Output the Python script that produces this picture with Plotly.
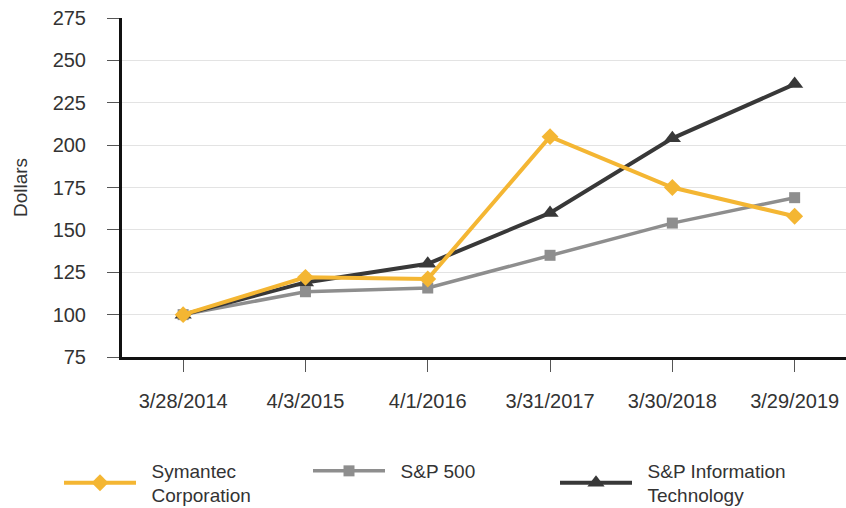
import plotly.graph_objects as go

dates = ["3/28/2014", "4/3/2015", "4/1/2016", "3/31/2017", "3/30/2018", "3/29/2019"]
symantec = [100, 122, 121, 205, 175, 158]
sp500 = [100, 113.5, 115.7, 135, 154, 169]
sp_it = [100, 119, 130, 160, 204, 236]
y_ticks = [75, 100, 125, 150, 175, 200, 225, 250, 275]

YELLOW = "#F4B633"
GRAY = "#8E8E8E"
DARK = "#383838"
FONT = "Liberation Sans, Arial, sans-serif"
TXT = "#333333"
PAD = "\u00a0" * 2
W, H = 846, 508

fig = go.Figure()
fig.add_trace(go.Scatter(
    x=dates, y=sp500, name=PAD + "S&P 500", mode="lines+markers",
    line=dict(color=GRAY, width=3.5),
    marker=dict(symbol="square", size=11, color=GRAY),
    legend="legend2",
))
fig.add_trace(go.Scatter(
    x=dates, y=sp_it, name=PAD + "S&P Information<br>" + PAD + "Technology",
    mode="lines+markers",
    line=dict(color=DARK, width=4),
    marker=dict(symbol="triangle-up", size=15, color=DARK),
    legend="legend3",
))
fig.add_trace(go.Scatter(
    x=dates, y=symantec, name=PAD + "Symantec<br>" + PAD + "Corporation",
    mode="lines+markers",
    line=dict(color=YELLOW, width=4),
    marker=dict(symbol="diamond", size=13, color=YELLOW),
    legend="legend",
))


def leg(xpx, ycenter):
    return dict(
        orientation="h", x=xpx / W, xref="container",
        y=1 - ycenter / H, yref="container",
        xanchor="left", yanchor="middle",
        font=dict(size=19, color=TXT, family=FONT),
        itemwidth=72, itemsizing="trace", bgcolor="rgba(0,0,0,0)",
    )


fig.update_layout(
    width=W, height=H,
    margin=dict(l=122, r=0, t=18, b=151, autoexpand=False),
    paper_bgcolor="white", plot_bgcolor="white",
    font=dict(family=FONT, color=TXT, size=18),
    showlegend=True,
    legend=leg(59, 483),
    legend2=leg(308, 471),
    legend3=leg(555, 483),
    xaxis=dict(
        type="category", range=[-0.5, 5.42], automargin=False,
        showline=True, linecolor="#111111", linewidth=2.5,
        ticks="outside", ticklen=12, tickcolor="#555555", tickwidth=1,
        ticklabelstandoff=12,
        tickfont=dict(size=20, color=TXT),
        showgrid=False, zeroline=False,
    ),
    yaxis=dict(
        range=[75, 275], tickvals=y_ticks, automargin=False,
        showline=True, linecolor="#111111", linewidth=3,
        ticks="outside", ticklen=12, tickcolor="#555555", tickwidth=1,
        ticklabelstandoff=17,
        tickfont=dict(size=20, color=TXT),
        showgrid=True, gridcolor="#E3E3E3", gridwidth=1,
        zeroline=False,
        title=dict(text="Dollars", font=dict(size=19, color=TXT), standoff=20),
    ),
)

fig.write_html(
    "out.html",
    config={"displayModeBar": False},
    post_script="document.body.style.margin='0';",
)
